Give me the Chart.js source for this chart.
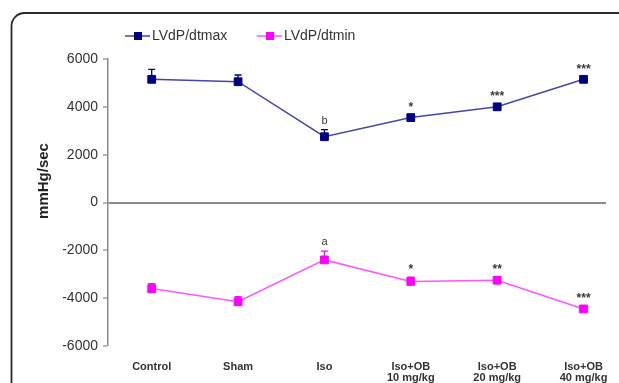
<!DOCTYPE html>
<html>
<head>
<meta charset="utf-8">
<script src="https://cdn.jsdelivr.net/npm/chart.js@4.4.1/dist/chart.umd.min.js"></script>
<style>
  html, body { margin: 0; padding: 0; background: #fff; }
  #wrap { width: 619px; height: 383px; position: relative; overflow: hidden; }
</style>
</head>
<body>
<div id="wrap"><canvas id="c" width="619" height="383"></canvas></div>
<script>
// ---- data ----
const categories = ['Control', 'Sham', 'Iso', ['Iso+OB', '10 mg/kg'], ['Iso+OB', '20 mg/kg'], ['Iso+OB', '40 mg/kg']];
const seriesNames = ['LVdP/dtmax', 'LVdP/dtmin'];
const dtmax = [5150, 5050, 2750, 3550, 4000, 5150];
const dtmaxErr = [420, 280, 300, 100, 100, 100];
const dtmin = [-3600, -4150, -2400, -3300, -3250, -4450];
const dtminErr = [210, 210, 370, 180, 130, 120];
const dtmaxSig = ['', '', 'b', '*', '***', '***'];
const dtminSig = ['', '', 'a', '*', '**', '***'];
const yTicks = [6000, 4000, 2000, 0, -2000, -4000, -6000];
const yTitle = 'mmHg/sec';

const FONT = "'Liberation Sans', Arial, sans-serif";
const maxLine = '#4646a8', maxMark = '#000080';
const minLine = '#ff55ff', minMark = '#ff00ff';

const toXY = arr => arr.map((v, i) => ({ x: i, y: v }));

const extras = {
  id: 'extras',
  beforeDraw(chart) {
    const ctx = chart.ctx;
    ctx.save();
    ctx.fillStyle = '#fff';
    ctx.fillRect(0, 0, chart.width, chart.height);
    ctx.strokeStyle = '#2a2a2a';
    ctx.lineWidth = 1.8;
    ctx.beginPath();
    ctx.roundRect(11.5, 13, 640, 420, 13);
    ctx.stroke();
    ctx.restore();
  },
  beforeDatasetsDraw(chart) {
    const ctx = chart.ctx;
    const xs = chart.scales.x, ys = chart.scales.y;
    const sets = [[dtmax, dtmaxErr, maxMark], [dtmin, dtminErr, minMark]];
    ctx.save();
    ctx.lineWidth = 1.3;
    sets.forEach(([vals, errs, col]) => {
      ctx.strokeStyle = col;
      vals.forEach((v, i) => {
        const px = xs.getPixelForValue(i);
        const y0 = ys.getPixelForValue(v);
        const y1 = ys.getPixelForValue(v + errs[i]);
        ctx.beginPath();
        ctx.moveTo(px, y0);
        ctx.lineTo(px, y1);
        ctx.moveTo(px - 3.5, y1);
        ctx.lineTo(px + 3.5, y1);
        ctx.stroke();
      });
    });
    ctx.restore();
  },
  afterDraw(chart) {
    const ctx = chart.ctx;
    const xs = chart.scales.x, ys = chart.scales.y;
    ctx.save();
    ctx.fillStyle = '#3a3a3a';
    ctx.textAlign = 'center';
    ctx.textBaseline = 'alphabetic';
    [[dtmax, dtmaxErr, dtmaxSig], [dtmin, dtminErr, dtminSig]].forEach(([vals, errs, sig]) => {
      vals.forEach((v, i) => {
        if (!sig[i]) return;
        const star = sig[i].indexOf('*') >= 0;
        ctx.font = (star ? 'bold 12px ' : '11px ') + FONT;
        const px = xs.getPixelForValue(i);
        const py = ys.getPixelForValue(v + errs[i]) - (star ? 4 : 6);
        ctx.fillText(sig[i], px, py);
      });
    });
    // y title
    ctx.save();
    ctx.translate(44, 181);
    ctx.rotate(-Math.PI / 2);
    ctx.font = 'bold 15px ' + FONT;
    ctx.fillStyle = '#222';
    ctx.textAlign = 'center';
    ctx.textBaseline = 'middle';
    ctx.fillText(yTitle, 0, 0);
    ctx.restore();
    // legend
    const items = [[seriesNames[0], maxLine, maxMark, 125], [seriesNames[1], minLine, minMark, 257]];
    const ly = 36;
    items.forEach(([name, lc, mc, lx]) => {
      ctx.strokeStyle = lc;
      ctx.lineWidth = 1.5;
      ctx.beginPath();
      ctx.moveTo(lx, ly);
      ctx.lineTo(lx + 25, ly);
      ctx.stroke();
      ctx.fillStyle = mc;
      ctx.fillRect(lx + 13 - 4, ly - 4, 8, 8);
      ctx.fillStyle = '#333';
      ctx.font = '14px ' + FONT;
      ctx.textAlign = 'left';
      ctx.textBaseline = 'middle';
      ctx.fillText(name, lx + 27, ly);
    });
    ctx.restore();
  }
};

new Chart(document.getElementById('c'), {
  type: 'line',
  data: {
    datasets: [
      {
        label: seriesNames[0], data: toXY(dtmax),
        borderColor: maxLine, borderWidth: 1.5,
        pointStyle: 'rect', pointRadius: 5.5, pointBackgroundColor: maxMark, pointBorderColor: maxMark, pointBorderWidth: 1,
        tension: 0
      },
      {
        label: seriesNames[1], data: toXY(dtmin),
        borderColor: minLine, borderWidth: 1.5,
        pointStyle: 'rect', pointRadius: 5.5, pointBackgroundColor: minMark, pointBorderColor: minMark, pointBorderWidth: 1,
        tension: 0
      }
    ]
  },
  options: {
    responsive: false,
    animation: false,
    events: [],
    layout: { padding: { top: 59, right: 13, bottom: 0, left: 0 } },
    plugins: { legend: { display: false }, tooltip: { enabled: false } },
    scales: {
      x: {
        type: 'linear',
        min: -0.506, max: 5.26,
        afterBuildTicks: s => { s.ticks = categories.map((c, i) => ({ value: i })); },
        afterFit: s => { s.height = 37; },
        grid: { display: false },
        border: { display: false },
        ticks: {
          callback: v => categories[v],
          color: '#333',
          font: { family: FONT, size: 11, weight: 'bold', lineHeight: 1.05 },
          padding: 7,
          maxRotation: 0, autoSkip: false
        }
      },
      y: {
        min: -6000, max: 6000,
        afterBuildTicks: s => { s.ticks = yTicks.map(v => ({ value: v })); },
        afterFit: s => { s.width = 108; },
        border: { display: true, color: '#8a8a8a', width: 1.5 },
        grid: {
          drawOnChartArea: true,
          drawTicks: true,
          tickLength: 5,
          tickColor: '#8a8a8a',
          tickWidth: 1.2,
          color: c => (c.tick && c.tick.value === 0) ? '#8a8a8a' : 'rgba(0,0,0,0)',
          lineWidth: c => (c.tick && c.tick.value === 0) ? 2 : 0
        },
        ticks: {
          callback: v => String(v),
          color: '#333',
          font: { family: FONT, size: 14 },
          padding: 5
        }
      }
    }
  },
  plugins: [extras]
});
</script>
</body>
</html>
